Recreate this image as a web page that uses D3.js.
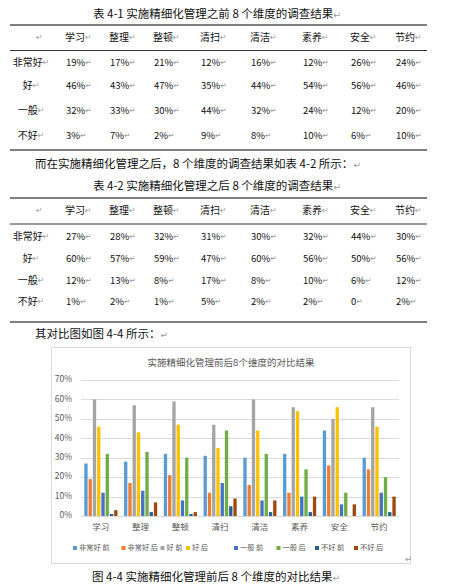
<!DOCTYPE html>
<html>
<head>
<meta charset="utf-8">
<script src="https://cdn.jsdelivr.net/npm/d3@7"></script>
<style>
  body { margin: 0; background: #fff; }
  svg { display: block; font-family: "Noto Sans CJK SC", "DejaVu Sans", sans-serif; }
</style>
</head>
<body>
<svg id="page"></svg>
<script>
const width = 457, height = 587;

// dimensions (columns) and rating levels (rows)
const dims = ['学习', '整理', '整顿', '清扫', '清洁', '素养', '安全', '节约'];
const levels = ['非常好', '好', '一般', '不好'];

// table 4-1: before
const beforeVeryGood = [19, 17, 21, 12, 16, 12, 26, 24];
const beforeGood     = [46, 43, 47, 35, 44, 54, 56, 46];
const beforeFair     = [32, 33, 30, 44, 32, 24, 12, 20];
const beforeBad      = [3, 7, 2, 9, 8, 10, 6, 10];

// table 4-2: after
const afterVeryGood = [27, 28, 32, 31, 30, 32, 44, 30];
const afterGood     = [60, 57, 59, 47, 60, 56, 50, 56];
const afterFair     = [12, 13, 8, 17, 8, 10, 6, 12];
const afterBad      = [1, 2, 1, 5, 2, 2, 0, 2];

// chart series as drawn in the figure (labels as printed)
const seriesNames = ['非常好 前', '非常好 后', '好 前', '好 后', '一般 前', '一般 后', '不好 前', '不好 后'];
const seriesValues = [afterVeryGood, beforeVeryGood, afterGood, beforeGood, afterFair, beforeFair, afterBad, beforeBad];
const seriesColors = ['#5B9BD5', '#ED7D31', '#A5A5A5', '#FFC000', '#4472C4', '#70AD47', '#255E91', '#9E480E'];
const yTicks = [0, 10, 20, 30, 40, 50, 60, 70];

const svg = d3.select('#page').attr('width', width).attr('height', height);
svg.append('rect').attr('width', width).attr('height', height).attr('fill', '#fff');

const mark = '\u21B5';

// text with a trailing paragraph mark
let addText = function(sel, x, y, txt, opts = {}) {
    const t = sel.append('text')
        .attr('x', x).attr('y', y)
        .attr('font-size', opts.size || 10)
        .attr('fill', opts.fill || '#111')
        .attr('text-anchor', opts.anchor || 'start')
        .attr('dominant-baseline', 'middle');
    t.append('tspan').text(txt);
    if (opts.mark !== false) {
        t.append('tspan').attr('fill', '#9a9a9a').attr('font-size', (opts.size || 10) * 0.8).text(mark);
    }
    return t;
};

const colX = d3.scaleOrdinal().domain(dims).range([65, 109, 153, 200, 250, 302, 350, 395]);

let drawTable = function(g, title, rows, layout) {
    addText(g, 217, layout.title, title, {size: 11.5, anchor: 'middle'});
    [layout.top, layout.head, layout.bottom].forEach((y, i) => {
        g.append('line')
            .attr('x1', 10).attr('x2', 427)
            .attr('y1', y).attr('y2', y)
            .attr('stroke', '#000')
            .attr('stroke-width', i === 1 ? 0.8 : 1.2);
    });
    addText(g, 36, layout.headText, '', {size: 10});
    dims.forEach(d => addText(g, colX(d), layout.headText, d, {size: 10}));
    rows.forEach((vals, r) => {
        const y = layout.rows[r];
        addText(g, 31, y, levels[r], {size: 10, anchor: 'middle'});
        vals.forEach((v, i) => addText(g, colX(dims[i]) + 1, y, v === 0 ? '0' : v + '%', {size: 9.5}));
    });
};

drawTable(svg.append('g'), '表 4-1  实施精细化管理之前 8 个维度的调查结果',
    [beforeVeryGood, beforeGood, beforeFair, beforeBad],
    {title: 15, top: 25, head: 50.5, bottom: 150, headText: 38, rows: [63, 86, 111, 136]});

addText(svg, 35, 165, '而在实施精细化管理之后，8 个维度的调查结果如表 4-2 所示：', {size: 11.5});

drawTable(svg.append('g'), '表 4-2  实施精细化管理之后 8 个维度的调查结果',
    [afterVeryGood, afterGood, afterFair, afterBad],
    {title: 187, top: 198, head: 224, bottom: 322, headText: 211, rows: [237, 259, 281, 302]});

addText(svg, 35, 335, '其对比图如图 4-4 所示：', {size: 11.5});

// ---- chart ----
const chart = svg.append('g');
chart.append('rect')
    .attr('x', 51.5).attr('y', 347.5)
    .attr('width', 359).attr('height', 216)
    .attr('fill', '#fff').attr('stroke', '#d9d9d9');

chart.append('text')
    .attr('x', 231).attr('y', 363)
    .attr('text-anchor', 'middle').attr('dominant-baseline', 'middle')
    .attr('font-size', 9.5).attr('fill', '#595959')
    .text('实施精细化管理前后8个维度的对比结果');

const plot = {left: 81, right: 399, top: 380, bottom: 516};

const y = d3.scaleLinear().domain([0, 70]).range([plot.bottom, plot.top]);
const x0 = d3.scaleBand().domain(dims).range([plot.left, plot.right]).paddingInner(0.166).paddingOuter(0.083);
const x1 = d3.scaleBand().domain(d3.range(seriesNames.length)).range([0, x0.bandwidth()]).paddingInner(0.22);

chart.selectAll('.grid')
    .data(yTicks)
    .join('line')
    .attr('class', 'grid')
    .attr('x1', plot.left).attr('x2', plot.right)
    .attr('y1', d => Math.round(y(d)) + 0.5).attr('y2', d => Math.round(y(d)) + 0.5)
    .attr('stroke', '#d9d9d9').attr('stroke-width', 1);

chart.selectAll('.ylab')
    .data(yTicks)
    .join('text')
    .attr('class', 'ylab')
    .attr('x', 72).attr('y', d => y(d))
    .attr('text-anchor', 'end').attr('dominant-baseline', 'middle')
    .attr('font-size', 8.5).attr('fill', '#595959')
    .text(d => d + '%');

const groups = chart.selectAll('.grp')
    .data(dims)
    .join('g')
    .attr('class', 'grp')
    .attr('transform', d => `translate(${x0(d)},0)`);

groups.selectAll('rect')
    .data((d, i) => seriesValues.map((vals, s) => ({s, v: vals[i]})))
    .join('rect')
    .attr('x', d => x1(d.s))
    .attr('width', x1.bandwidth())
    .attr('y', d => y(d.v))
    .attr('height', d => y(0) - y(d.v))
    .attr('fill', d => seriesColors[d.s]);

chart.selectAll('.xlab')
    .data(dims)
    .join('text')
    .attr('class', 'xlab')
    .attr('x', d => x0(d) + x0.bandwidth() / 2)
    .attr('y', 528)
    .attr('text-anchor', 'middle').attr('dominant-baseline', 'middle')
    .attr('font-size', 8.5).attr('fill', '#595959')
    .text(d => d);

// legend
const legendX = d3.scaleOrdinal().domain(seriesNames).range([73, 121.5, 160.5, 186, 234, 276.5, 315, 354]);
const legend = chart.selectAll('.leg')
    .data(seriesNames)
    .join('g')
    .attr('class', 'leg')
    .attr('transform', d => `translate(${legendX(d)},548)`);
legend.append('rect')
    .attr('x', 0).attr('y', -2).attr('width', 4).attr('height', 4)
    .attr('fill', (d, i) => seriesColors[i]);
legend.append('text')
    .attr('x', 6).attr('y', 0)
    .attr('dominant-baseline', 'middle')
    .attr('font-size', 7.2).attr('fill', '#595959')
    .text(d => d);

addText(svg, 405, 560, '', {size: 11});
addText(svg, 92, 578, '图 4-4  实施精细化管理前后 8 个维度的对比结果', {size: 11.5});
</script>
</body>
</html>
